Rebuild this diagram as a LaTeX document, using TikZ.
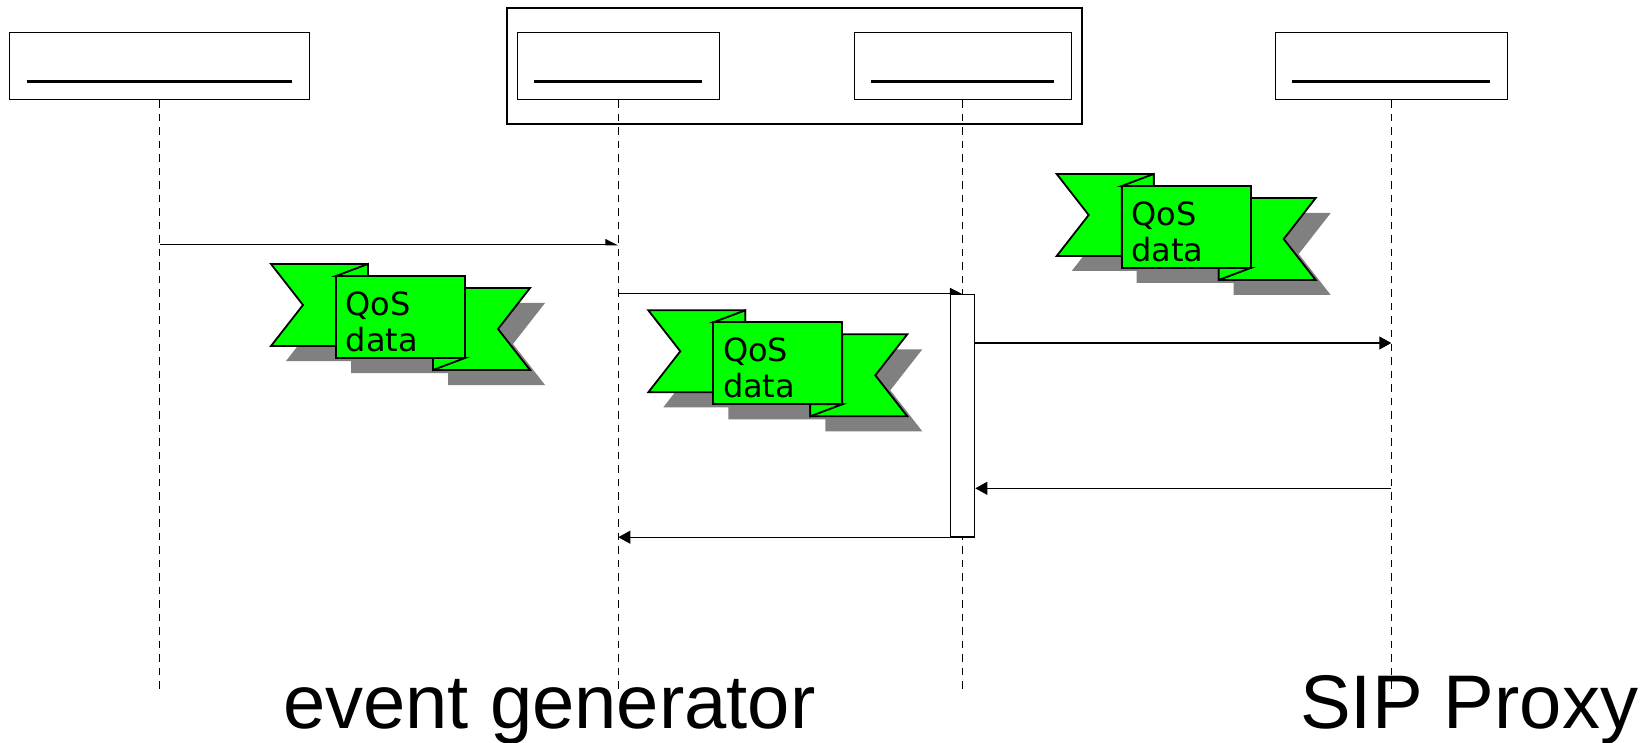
\documentclass[tikz,border=0pt]{standalone}
\usepackage{fontspec}
\setmainfont{Liberation Sans}
\newfontfamily\flagfont{DejaVu Sans}
\usetikzlibrary{arrows.meta, positioning, fit}
\usepackage{xcolor}
\definecolor{flaggreen}{RGB}{0,255,0}
\definecolor{flagshadow}{RGB}{128,128,128}
\tikzstyle{lifehead} = [rectangle, draw=black, line width=1pt, fill=white, minimum height=67.7pt, inner sep=0pt]
\tikzstyle{groupbox} = [rectangle, draw=black, line width=2pt, inner xsep=10pt, inner ysep=23.3pt]
\tikzstyle{nameline} = [line width=2.7pt]
\tikzstyle{lifeline} = [line width=1.1pt, dash pattern=on 7.5pt off 6pt]
\tikzstyle{activation} = [rectangle, draw=black, line width=1pt, fill=white, minimum width=24pt, minimum height=242.4pt, inner sep=0pt]
\tikzstyle{arrow} = [line width=1pt, -{Triangle[length=12pt,width=13pt]}]
\tikzstyle{halfarrow} = [line width=1pt, -{Triangle[length=12pt,width=12pt,left]}]
\tikzstyle{flagpart} = [fill=flaggreen, draw=black, line width=1.8pt]
\tikzstyle{bigtext} = [font=\fontsize{76}{80}\selectfont, inner sep=0pt]

\tikzset{
  pics/qosflag/.style={code={
    % shadow
    \fill[flagshadow, shift={(15,15)}] (-65,-12) -- (32,-12) -- (32,0) -- (129,0) -- (129,12) -- (194,12) -- (162,53) -- (194,94) -- (97,94) -- (97,82) -- (0,82) -- (0,70) -- (-65,70) -- (-33,29) -- cycle;
    % tails and folds
    \filldraw[flagpart] (-65,-12) -- (32,-12) -- (32,0) -- (0,0) -- (0,70) -- (-65,70) -- (-33,29) -- cycle;
    \filldraw[flagpart] (194,94) -- (97,94) -- (97,82) -- (129,82) -- (129,12) -- (194,12) -- (162,53) -- cycle;
    \filldraw[flagpart] (0,0) -- (32,-12) -- (32,0) -- cycle;
    \filldraw[flagpart] (129,82) -- (97,94) -- (97,82) -- cycle;
    % front panel
    \node[flagpart, rectangle, minimum width=129pt, minimum height=82pt, inner sep=0pt] (-box) at (64.5,41) {};
    \node[anchor=north west, align=left, inner sep=0pt, font=\flagfont\fontsize{32}{36}\selectfont] (-txt) at (9.5,15.5) {QoS\\data};
  }}
}

\begin{document}
\begin{tikzpicture}[x=1pt, y=-1pt]

\useasboundingbox (0,0) rectangle (1644,743);

% Heads
\node[lifehead, minimum width=299.6pt] (hdA) at (159.5,66.15) {};
\node[lifehead, minimum width=202pt] (hdB) at (618.3,66.15) {};
\node[lifehead, minimum width=217pt] (hdC) at (962.8,66.15) {};
\node[lifehead, minimum width=232pt] (hdD) at (1391.3,66.15) {};
\node[groupbox, fit=(hdB)(hdC)] (grp) {};

\foreach \h in {hdA, hdB, hdC, hdD}
  \draw[nameline] ([xshift=17.4pt, yshift=19pt]\h.south west) -- ([xshift=-17.4pt, yshift=19pt]\h.south east);

% Lifelines
\coordinate (lifeend) at (0,692);
\foreach \h in {hdA, hdB, hdC, hdD}
  \draw[lifeline] (\h.south) -- (\h.south |- lifeend);

% Activation
\node[activation] (act) at (962.8,415.5) {};

% Messages
\coordinate (sig1) at (0,245);
\coordinate (sig3) at (0,343);
\coordinate (sig4) at (0,488.3);
\draw[halfarrow] (hdA |- sig1) -- (hdB |- sig1);
\draw[halfarrow] (hdB |- act.north) -- (hdC |- act.north);
\draw[arrow] (act.east |- sig3) -- (hdD |- sig3);
\draw[arrow] (hdD |- sig4) -- (act.east |- sig4);
\draw[arrow] (act.south east) -- (hdB |- act.south);

% QoS flags
\pic (qosA) at (336,276) {qosflag};
\pic (qosB) at (713.3,322.3) {qosflag};
\pic (qosC) at (1121.7,186) {qosflag};

% Labels
\node[bigtext, anchor=base west] (evgen) at (283,728) {event generator};
\node[bigtext, anchor=base west] (proxy) at (1300,728) {SIP Proxy};

\end{tikzpicture}
\end{document}
